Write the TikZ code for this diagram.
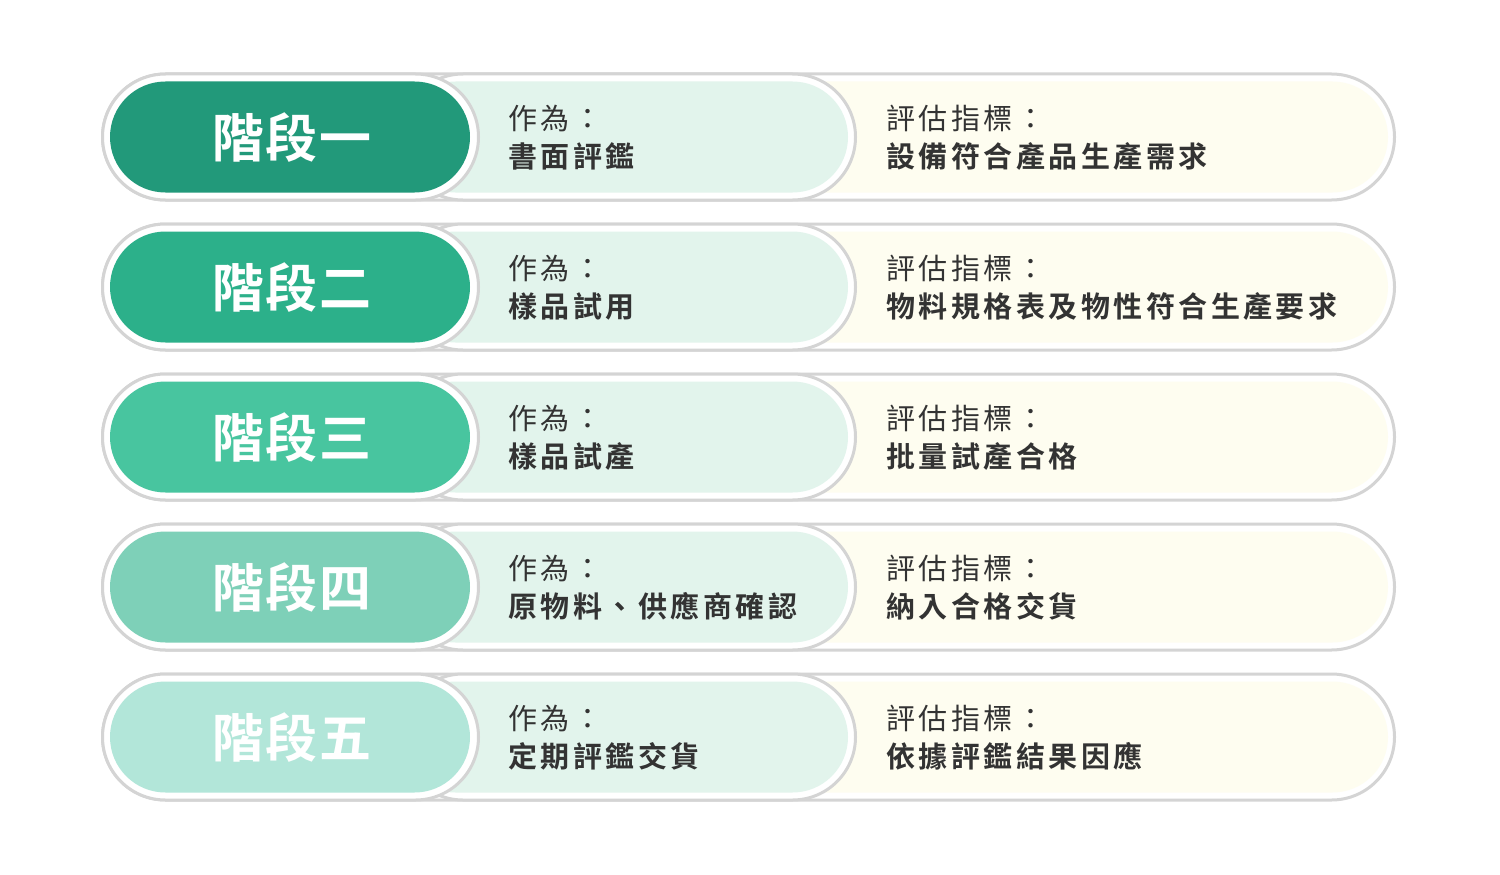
\documentclass[tikz,border=0pt]{standalone}
\usepackage{fontspec}
\newfontfamily\cjk[LetterSpace=12,BoldFont={Noto Sans CJK TC Bold}]{Noto Sans CJK TC}
\newfontfamily\cjkstage[LetterSpace=3,BoldFont={Noto Sans CJK TC Bold}]{Noto Sans CJK TC}
\definecolor{gA}{HTML}{22997A}
\definecolor{gB}{HTML}{2CB08A}
\definecolor{gC}{HTML}{48C59F}
\definecolor{gD}{HTML}{7ED0B8}
\definecolor{gE}{HTML}{B2E6D9}
\definecolor{panelG}{HTML}{E2F4EC}
\definecolor{panelY}{HTML}{FEFDF0}
\definecolor{rim}{HTML}{D4D4D4}
\definecolor{ink}{HTML}{333333}
\tikzset{
  rimpill/.style={fill=white,draw=rim,line width=3pt},
  stagetxt/.style={text=white,inner sep=0pt,font=\cjkstage\bfseries\fontsize{52}{60}\selectfont,text height=45.8pt,text depth=6.2pt},
  lbltxt/.style={text=ink,anchor=west,inner sep=0pt,font=\cjk\fontsize{29}{34}\selectfont,text height=25.5pt,text depth=3.5pt},
  valtxt/.style={lbltxt,font=\cjk\bfseries\fontsize{29}{34}\selectfont},
}
\begin{document}
\begin{tikzpicture}[x=1pt,y=-1pt]
\useasboundingbox (0,0) rectangle (1500,875);
\fill[white] (0,0) rectangle (1500,875);
\foreach \i/\cy/\col/\num/\act/\ind in {
  1/137/gA/一/書面評鑑/設備符合產品生產需求,
  2/287/gB/二/樣品試用/物料規格表及物性符合生產要求,
  3/437/gC/三/樣品試產/批量試產合格,
  4/587/gD/四/原物料、供應商確認/納入合格交貨,
  5/737/gE/五/定期評鑑交貨/依據評鑑結果因應}{
  % outer pill
  \draw[rimpill,rounded corners=63] (102.5,\cy-63) rectangle (1394.5,\cy+63);
  % cream panel
  \fill[panelY,rounded corners=55.5] (700,\cy-55.5) rectangle (1388,\cy+55.5);
  % middle pill
  \draw[rimpill,rounded corners=63] (400,\cy-63) rectangle (855.5,\cy+63);
  \fill[panelG,rounded corners=55.5] (400,\cy-55.5) rectangle (848,\cy+55.5);
  % left pill
  \draw[rimpill,rounded corners=63] (102.5,\cy-63) rectangle (478.5,\cy+63);
  \fill[\col,rounded corners=55.5] (110,\cy-55.5) rectangle (470,\cy+55.5);
  % texts
  \node[stagetxt] (s\i) at (292,\cy+1) {階段\num};
  \node[lbltxt] (a\i) at (508,\cy-19) {作為：};
  \node[valtxt] (b\i) at (508,\cy+19) {\act};
  \node[lbltxt] (c\i) at (886,\cy-19) {評估指標：};
  \node[valtxt] (d\i) at (886,\cy+19) {\ind};
}
\end{tikzpicture}
\end{document}
